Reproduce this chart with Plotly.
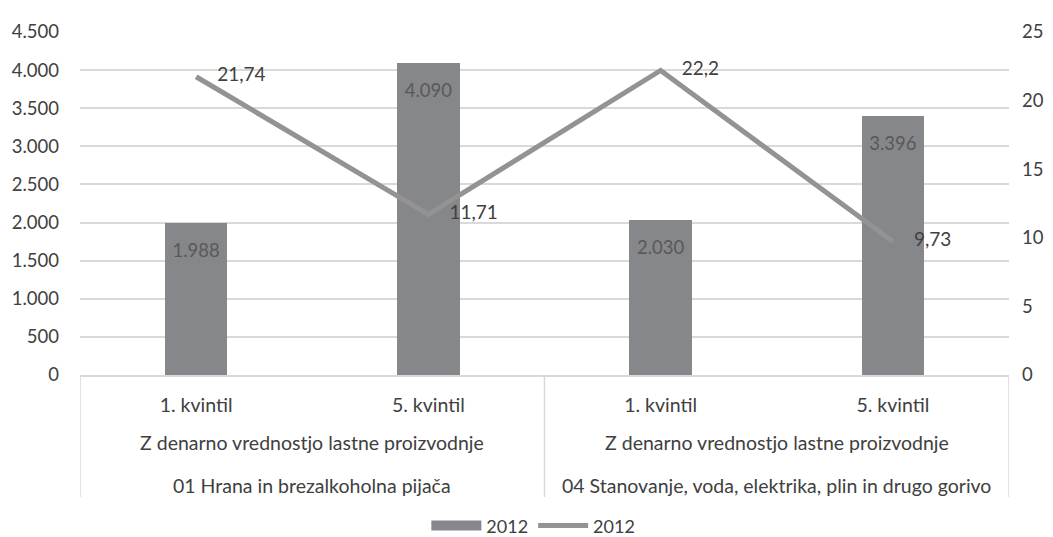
import plotly.graph_objects as go

quintiles = ["1. kvintil", "5. kvintil", "1. kvintil", "5. kvintil"]
subgroup = ["Z denarno vrednostjo lastne proizvodnje", "Z denarno vrednostjo lastne proizvodnje"]
groups = ["01 Hrana in brezalkoholna pijača", "04 Stanovanje, voda, elektrika, plin in drugo gorivo"]
bar_values = [1988, 4090, 2030, 3396]
line_values = [21.74, 11.71, 22.2, 9.73]
bar_name = "2012"
line_name = "2012"

FONT = "Lato"
TXT = "#404040"
GRID = "#d9d9d9"
BAR = "#86878a"
LINE = "#939393"
CLEAR = "rgba(0,0,0,0)"

def thousands(v):
    return f"{v:,}".replace(",", ".")

def dec(v):
    return f"{v:g}".replace(".", ",")

xs = list(range(len(quintiles)))

fig = go.Figure()
fig.add_trace(go.Bar(
    x=xs, y=bar_values, name=bar_name, width=0.27, showlegend=False,
    marker=dict(color=BAR, line=dict(width=0)),
))
# legend entry for the bars (wide flat swatch, as in the original)
fig.add_trace(go.Scatter(
    x=[None], y=[None], mode="lines", name=bar_name,
    line=dict(color=BAR, width=10),
))
# bar value labels, hung just below each bar top
fig.add_trace(go.Scatter(
    x=xs, y=bar_values, mode="markers+text", showlegend=False, hoverinfo="skip",
    marker=dict(size=30, color=CLEAR),
    text=[thousands(v) for v in bar_values], textposition="bottom center",
    textfont=dict(family=FONT, size=18.5, color="#595959"),
))
# line series; transparent markers push the value labels to the right
fig.add_trace(go.Scatter(
    x=xs, y=line_values, name=line_name, yaxis="y2", mode="lines+markers+text",
    line=dict(color=LINE, width=5),
    marker=dict(size=32, color=CLEAR),
    text=[dec(v) for v in line_values], textposition="middle right",
    textfont=dict(family=FONT, size=19, color=TXT),
))

ann = []
for i, g in enumerate(groups):
    cx = 2 * i + 0.5
    ann.append(dict(x=cx, y=-0.198, xref="x", yref="paper", yanchor="middle", text=subgroup[i],
                    showarrow=False, font=dict(family=FONT, size=19.5, color=TXT)))
    ann.append(dict(x=cx, y=-0.321, xref="x", yref="paper", yanchor="middle", text=g,
                    showarrow=False, font=dict(family=FONT, size=19.5, color=TXT)))

shapes = []
for xv in [-0.5, 1.5, 3.5]:
    shapes.append(dict(type="line", xref="x", yref="paper", x0=xv, x1=xv, y0=0, y1=-0.356,
                       line=dict(color=GRID, width=1.5)))

fig.update_layout(
    width=1045, height=537,
    margin=dict(l=72, r=44, t=24, b=170, autoexpand=False),
    paper_bgcolor="white", plot_bgcolor="white",
    separators=",.",
    font=dict(family=FONT, size=18, color=TXT),
    showlegend=True,
    legend=dict(orientation="h", x=0.488, xanchor="center", y=-0.44, yanchor="middle",
                itemwidth=50, font=dict(family=FONT, size=18, color=TXT)),
    xaxis=dict(range=[-0.5, 3.5], tickvals=xs, ticktext=quintiles, showgrid=False,
               zeroline=False, showline=True, linecolor=GRID, linewidth=1.5, ticks="",
               automargin=False,
               ticklabelstandoff=12, tickfont=dict(family=FONT, size=19.5, color=TXT)),
    yaxis=dict(range=[0, 4500], dtick=500, tickformat=",", showgrid=True, gridcolor=GRID,
               gridwidth=1.5, zeroline=False, ticks="", ticklabelstandoff=20, automargin=False,
               tickfont=dict(family=FONT, size=18.5, color=TXT)),
    yaxis2=dict(range=[0, 25], dtick=5, overlaying="y", side="right", showgrid=False,
                zeroline=False, ticks="", ticklabelstandoff=12, automargin=False,
                tickfont=dict(family=FONT, size=18.5, color=TXT)),
    annotations=ann, shapes=shapes,
    bargap=0,
)

fig.write_html("out.html")
